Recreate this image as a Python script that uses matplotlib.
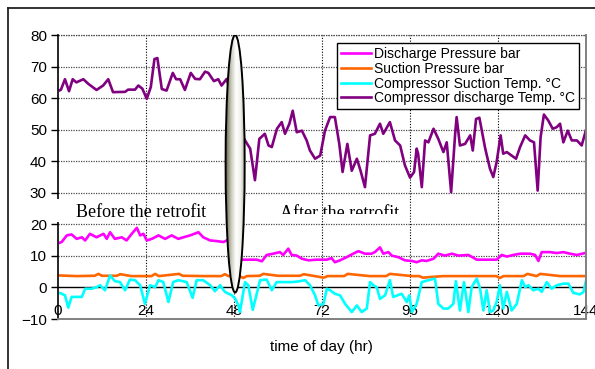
import numpy as np
import matplotlib
matplotlib.use('Agg')
import matplotlib.pyplot as plt
from matplotlib.patches import Ellipse, Rectangle
from matplotlib.colors import LinearSegmentedColormap
from matplotlib.lines import Line2D
from matplotlib.transforms import Bbox, TransformedBbox

plt.rcParams['font.family'] = ['Liberation Sans', 'DejaVu Sans']

# ---- data ----
# Discharge Pressure bar
dp_hr = [0.5, 1, 2.4, 3.7, 5.1, 6.5, 7.4, 8.7, 10.5, 12.4, 13.3, 14.2, 15.5, 17.4, 18.7,
         20.1, 21.5, 22.4, 23.3, 24.2, 25.6, 27.4, 29.2, 31, 32.8, 34.2, 36, 38.3, 39.6,
         41.5, 43.3, 45.1, 46, 47.5, 49.5, 50.5, 52.4, 54.2, 55.6, 56.9, 58.7, 60.5, 61.4,
         62.8, 63.7, 65.1, 66.5, 68.3, 70.5, 71.5, 73.3, 74.6, 75.5, 76.9, 78.7, 80.5, 81.9,
         83.7, 85.5, 86.4, 87.8, 88.7, 90.1, 91, 92.8, 94.6, 96.5, 97.8, 99.2, 100.5, 102.4,
         103.7, 105.5, 107.4, 109.2, 111.9, 114.2, 117.8, 119.6, 121, 122.4, 124.2, 126,
         128.7, 130.1, 131, 131.9, 134.2, 136, 137.8, 139.6, 141.5, 143.7, 144]
dp_val = [14.2, 14.4, 16.5, 16.8, 15.4, 15.9, 14.9, 17, 15.9, 17, 15.4, 17.5, 15.4, 15.9, 14.9,
          17, 18.9, 16.5, 17, 14.9, 15.4, 16.5, 15.4, 16.5, 15.4, 15.9, 16.5, 17.5, 15.9,
          14.9, 14.7, 14.4, 14.9, 14.5, 8.8, 8.8, 8.8, 8.8, 8.3, 10.3, 10.7, 11.2, 10.3,
          12.3, 10.3, 10.1, 9.1, 8.6, 8.8, 8.8, 8.8, 9.3, 8.0, 8.6, 9.6, 10.7, 11.5,
          10.7, 10.7, 11.2, 12.7, 10.7, 11.2, 10.1, 9.6, 8.6, 8.4, 8.0, 8.6, 8.4, 9.1,
          10.7, 10.1, 10.7, 10.1, 10.3, 8.8, 8.8, 8.8, 10.3, 9.8, 10.3, 10.7,
          10.7, 10.3, 8.4, 11.2, 11.2, 10.9, 11.2, 10.7, 10.3, 10.9, 11.0]

# Suction Pressure bar
sp_hr = [0.5, 5, 10, 11, 12, 16, 17, 20, 25.5, 26.5, 27.5, 33, 34, 40, 44.5, 45.5, 46.5,
         49.5, 50.5, 51.5, 55, 56, 60, 66, 67, 72.5, 73.5, 78, 79, 85, 89.5, 90.5, 96.5,
         98.5, 99.5, 105, 110, 119.5, 120.5, 121.5, 127, 128, 130.5, 131.5, 137, 144]
sp_val = [3.8, 3.6, 3.7, 4.3, 3.7, 3.7, 4.2, 3.6, 3.6, 4.3, 3.6, 4.3, 3.7, 3.6, 3.6, 4.2, 3.6,
          3.6, 3.0, 3.6, 3.7, 4.3, 3.7, 3.7, 4.2, 3.1, 3.6, 3.6, 4.3, 3.6, 3.6, 4.3, 3.6,
          3.6, 3.1, 3.6, 3.6, 3.6, 3.0, 3.6, 3.6, 4.3, 3.6, 4.3, 3.6, 3.6]

# Compressor Suction Temp. C
cst_hr = [0.5, 1, 1.9, 2.8, 3.7, 5.1, 6.5, 7.4, 9.2, 10.5, 11.5, 12.8, 14.2, 15.5, 16.9,
          18.3, 19.6, 21, 22.4, 23.7, 25.1, 26.5, 27.4, 28.7, 30.1, 31.4, 32.8, 35.1, 36.7,
          37.8, 39.6, 41.5, 42.8, 44.2, 45.5, 47.4, 48.3, 49.2, 49.6, 51, 51.9, 53.1, 54.2,
          55.1, 56.9, 58.3, 59.6, 61.4, 63.7, 65.5, 67.4, 68.7, 70.1, 71, 72.4, 73.3, 74.2,
          75.5, 76.9, 78.3, 80.1, 81.5, 82.8, 84.2, 85.1, 86, 86.9, 87.8, 89.2, 90.5, 91.4,
          93.7, 95.1, 95.8, 96.5, 97.8, 99.2, 101, 102.8, 103.7, 105.1, 106.4, 107.8, 108.5,
          109.6, 110.7, 111.9, 112.8, 114.2, 115.1, 116, 116.9, 117.8, 118.7, 119.6, 120.5,
          121.4, 122.4, 123.7, 125.1, 126.5, 127.4, 128.3, 129.6, 131, 131.9, 133.3, 134.6,
          136, 137.8, 139.2, 140.5, 142.3, 143.3, 144]
cst_val = [-1.8, -2, -2.5, -6.4, -3, -3, -3, -0.4, -0.4, 0.1, 0.7, -0.9, 3.8, 2, 1.7,
           -0.9, 2.5, 2.3, 0.7, -5.2, 0.7, 0.1, 2.3, 1.7, -4.6, 1.7, 2.3, 1.7, -3.3,
           2.3, 2.3, 0.7, -1.2, 0.7, -1.4, -2.5, -3.5, -5.7, -7.8, 1.7, 0.7, -7.1, -2,
           2.3, 2.5, -0.9, 1.7, 1.7, 1.7, 1.9, 2.3, 0.7, -2.5, -5.7, -5.2, -0.4, -0.9,
           -2, -2.5, -5.2, -7.8, -5.7, -7.8, -6.7, 1.7, 0.7, 0.1, -3.6, -2.5, 2.3, -3,
           -2, -4.6, -2.5, -7.8, -5.2, 1.7, 2.3, 2.8, -5.2, -6.7, -6.7, -5.2, 2,
           -7.3, 1.7, -7.8, 0.1, 2.8, -0.4, -7.3, -0.9, -7.8, -7.3, -4.6, 0.7,
           -6.7, -1.4, -7.3, -5.2, 2.3, 0.1, 0.7, -0.9, -0.4, -1.4, 1.7, -0.4,
           0.7, 1.2, 1.2, -1.7, -2.2, -1.4, 2.3]

# Compressor discharge Temp. C
cdt_hr = [0.5, 0.8, 1.9, 3, 4, 5, 6.9, 8.3, 10.5, 12.3, 13.7, 15, 18.3, 19.1, 21, 21.9, 23,
          24.2, 25.3, 26.3, 27.1, 28.3, 29.6, 31.3, 32.2, 33.3, 34.6, 36.2, 37.4, 38.7, 40.1,
          41, 42.5, 43.7, 44.6, 46, 47.5, 49.5, 51, 52.4, 53.7, 54.9, 56.4, 57.4, 58.3, 59.7,
          61, 61.9, 63.1, 64, 65.1, 66.5, 67.8, 68.7, 70.1, 71.5, 72.8, 74.2, 75.5, 76.7,
          77.6, 78.9, 80.1, 81.5, 82.5, 83.7, 85.1, 86.4, 87.8, 88.7, 90.5, 91.9, 93.3, 94.6,
          96, 97.1, 97.8, 98.2, 99.2, 100.1, 101, 102.4, 103.7, 105.1, 106, 107.2, 108.3,
          108.7, 109.6, 111, 112.4, 113.1, 114, 114.9, 116.5, 117.8, 118.7, 119.6, 120.7,
          121.4, 122.4, 123.7, 124.9, 126, 127.4, 128.7, 129.8, 130.8, 131.6, 132.5, 133.7,
          134.9, 136, 136.9, 137.8, 139, 140.1, 141.5, 142.8, 144]
cdt_val = [62.5, 62.7, 66, 62.2, 66, 65, 66, 64.5, 62.6, 64, 66, 61.9, 62, 62.7, 62.7, 64, 63,
           59.8, 63.5, 72.4, 72.7, 62.9, 62.4, 68, 66, 66, 62.6, 68, 66.1, 66, 68.4,
           68, 65.4, 66, 64, 66.1, 60, 50, 46.6, 44, 34, 47.1, 48.7, 45, 44.5, 50.3,
           52.4, 48.7, 51.9, 56, 49.2, 49.7, 46.6, 43.4, 40.8, 41.8, 49.7, 54, 54, 45.5,
           36.6, 45.5, 37, 40.8, 37, 31.8, 48.2, 48.7, 51.9, 48.7, 52.4, 46.6, 45, 38.7,
           34.8, 36.6, 44, 42.4, 31.8, 46.6, 46, 50.3, 47.1, 42.9, 46, 30.2, 48.7,
           54, 45, 45.5, 48.2, 43.4, 53.4, 53.8, 44, 37.6, 35, 39.7, 48.2,
           42.4, 42.9, 41.8, 40.8, 44.5, 48.2, 46.6, 46, 30.7, 47.6, 54.8, 52.9,
           50.3, 50.8, 51.9, 46, 49.7, 46.6, 46.6, 45, 50]

labels = ['Discharge Pressure bar', 'Suction Pressure bar',
          'Compressor Suction Temp. °C', 'Compressor discharge Temp. °C']
colors = ['#FF00FF', '#FF6600', '#00FFFF', '#800080']
x_ticks = [0, 24, 48, 72, 96, 120, 144]
y_ticks = [-10, 0, 10, 20, 30, 40, 50, 60, 70, 80]

fig = plt.figure(figsize=(5.95, 3.69), dpi=100)
ax = fig.add_axes([0.0975, 0.1355, 0.8875, 0.7695])

series = [(dp_hr, dp_val), (sp_hr, sp_val), (cst_hr, cst_val), (cdt_hr, cdt_val)]
for (hx, hy), lab, col in zip(series, labels, colors):
    ax.plot(hx, hy, color=col, lw=1.9, label=lab, solid_joinstyle='round', zorder=2)

# grid
for yv in y_ticks[1:]:
    if yv == 0:
        continue
    ax.axhline(yv, color='#4a4a4a', lw=0.9, ls=(0, (1, 1)), zorder=0.5)
for xv in x_ticks[1:-1]:
    ax.axvline(xv, color='black', lw=0.8, ls=(0, (1, 1.5)), zorder=0.5)
ax.axhline(0, color='black', lw=1.0, zorder=1.5)

# text boxes
ax.add_patch(Rectangle((-1.7, 20.3), 48, 7.9, facecolor='white', edgecolor='none',
                       zorder=0.3, clip_on=False))
ax.add_patch(Rectangle((-1.7, 20.6), 2.0, 7.4, facecolor='white', edgecolor='none',
                       zorder=3, clip_on=False))
ax.text(4.9, 22.2, 'Before the retrofit', family='Liberation Serif', fontsize=13,
        va='baseline', ha='left', zorder=0.4)
ax.add_patch(Rectangle((50.5, 20.5), 45.5, 7.7, facecolor='white', edgecolor='none',
                       zorder=0.3))
t = ax.text(60.5, 22.1, 'After the retrofit', family='Liberation Serif', fontsize=13,
            va='baseline', ha='left', zorder=0.4)
t.set_clip_on(True)
t.set_clip_box(TransformedBbox(Bbox([[55, 23.2], [100, 28.2]]), ax.transData))

# lens-shaped marker at 48 h
ell = Ellipse((48.3, 39.2), width=5.2, height=81.6, facecolor='none',
              edgecolor='black', lw=1.4, zorder=4)
ax.add_patch(ell)
cm = LinearSegmentedColormap.from_list('lens', ['#6a6a54', '#c8c8b8', '#ffffff',
                                                '#f0f0ea', '#9a9a8a'])
grad = np.linspace(0, 1, 64).reshape(1, -1)
im = ax.imshow(grad, extent=[45.7, 50.9, -2.6, 81], cmap=cm, aspect='auto',
               zorder=3.5, interpolation='bilinear')
im.set_clip_path(ell)

ax.set_xlim(0, 144)
ax.set_ylim(-10, 80)
ax.set_xticks(x_ticks)
ax.set_yticks(y_ticks)
ax.tick_params(axis='x', length=0, pad=-11, labelsize=11)
ax.tick_params(axis='y', length=5, width=1, pad=3, labelsize=11, direction='out')
ax.spines['top'].set_visible(False)
ax.spines['left'].set_color('black')
ax.spines['left'].set_linewidth(1.2)
ax.spines['bottom'].set_color('#808080')
ax.spines['bottom'].set_linewidth(1.4)
ax.spines['right'].set_color('#808080')
ax.spines['right'].set_linewidth(1.4)
ax.axhline(80, color='#4a4a4a', lw=0.9, ls=(0, (1, 1)), zorder=0.5, clip_on=False)

leg = ax.legend(loc='upper right', bbox_to_anchor=(0.987, 0.972), fontsize=10,
                frameon=True, fancybox=False, framealpha=1, edgecolor='black',
                borderaxespad=0, labelspacing=0.05, handlelength=2.1,
                handletextpad=0.25, borderpad=0.3)
leg.get_frame().set_linewidth(1.0)
leg.set_zorder(5)

fig.text(0.541, 0.0596, 'time of day (hr)', ha='center', va='center', fontsize=11)

# outer frame
fig.add_artist(Line2D([8 / 595, 1.0], [1 - 8 / 369, 1 - 8 / 369], color='#222222', lw=1.3))
fig.add_artist(Line2D([8 / 595, 8 / 595], [0, 1 - 8 / 369], color='#222222', lw=1.3))

fig.savefig('out.png', dpi=100)
